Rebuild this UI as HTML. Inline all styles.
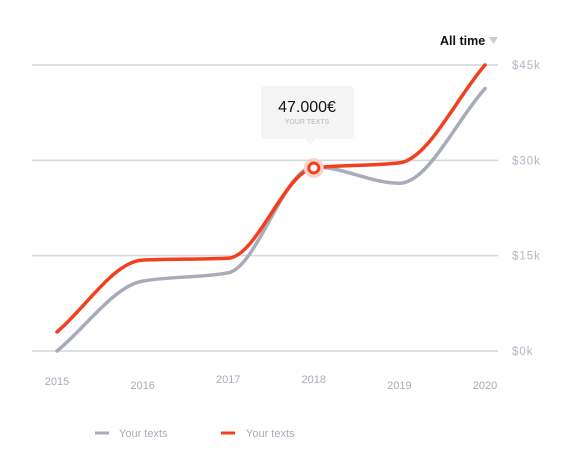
<!DOCTYPE html>
<html><head><meta charset="utf-8"><style>
body{margin:0;background:#fff;font-family:"Liberation Sans",sans-serif;}
svg{display:block}
</style></head><body>
<svg width="570" height="470">
<g id="grid"></g>
<g id="ylabels"></g>
<g id="xlabels"></g>
<g id="lines"></g>
<g>
<text x="440" y="45" font-size="12.5" font-weight="bold" fill="#111">All time</text>
<path d="M489,37 L498,37 L493.5,44 Z" fill="#c8cad6"/>
</g>
<g>
<rect x="261" y="86" width="93" height="53" rx="4" fill="#f5f5f5"/>
<path d="M305,139 L315,139 L310,145 Z" fill="#f5f5f5"/>
<text x="307" y="112" font-size="16" text-anchor="middle" fill="#111">47.000€</text>
<text x="307" y="124" font-size="7" font-weight="bold" text-anchor="middle" fill="#c9c9c9">YOUR TEXTS</text>
</g>
<g id="marker"></g>
<g>
<line x1="95" y1="433" x2="109" y2="433" stroke="#a8acba" stroke-width="3"/>
<text x="119" y="437" font-size="11" fill="#a8acba">Your texts</text>
<line x1="221" y1="433" x2="235" y2="433" stroke="#f2401e" stroke-width="3"/>
<text x="246" y="437" font-size="11" fill="#a8acba">Your texts</text>
</g>
</svg>
<script>
const years = ["2015","2016","2017","2018","2019","2020"];
const grayValues = [0, 11, 12.3, 29, 26.4, 41.3];
const redValues = [3, 14.3, 14.6, 28.8, 29.6, 45];
const yTicks = [0, 15, 30, 45];
const yTickLabels = ["$0k","$15k","$30k","$45k"];
const xLabelOffsets = [0, 4, -2, -2, 4, 4];
const highlightIndex = 3;

const NS="http://www.w3.org/2000/svg";
const X=i=>57+i*85.6;
const Y=v=>351-v*(286/45);
function el(t,a,p){const e=document.createElementNS(NS,t);for(const k in a)e.setAttribute(k,a[k]);p.appendChild(e);return e;}
const grid=document.getElementById('grid'),yl=document.getElementById('ylabels'),xl=document.getElementById('xlabels'),ln=document.getElementById('lines'),mk=document.getElementById('marker');
yTicks.forEach((v,i)=>{
 const l=el('line',{x1:32,x2:498,y1:Y(v),y2:Y(v),stroke:'#d3d6e2','stroke-width':1.5},grid);
 
 
 const t=el('text',{x:512,y:Y(v)+4,'font-size':11.5,fill:'#b3b6c4','letter-spacing':'1'},yl);
 t.textContent=yTickLabels[i];
 
 
});
years.forEach((y,i)=>{
 const t=el('text',{x:X(i),y:385+xLabelOffsets[i],'font-size':11,fill:'#a8acba','text-anchor':'middle'},xl);
 t.textContent=y;
 
 
});
function path(vals){
 const p=vals.map((v,i)=>[X(i),Y(v)]);
 const n=p.length,d=[],m=[];
 for(let i=0;i<n-1;i++)d.push((p[i+1][1]-p[i][1])/(p[i+1][0]-p[i][0]));
 for(let i=0;i<n;i++){
  if(i===0)m.push(d[0]);else if(i===n-1)m.push(d[n-2]);
  else m.push(d[i-1]*d[i]<=0?0:(2*d[i-1]*d[i])/(d[i-1]+d[i]));
 }
 let s=`M${p[0][0]},${p[0][1]}`;
 for(let i=0;i<n-1;i++){
  const h=(p[i+1][0]-p[i][0])/3;
  s+=` C${p[i][0]+h},${p[i][1]+m[i]*h} ${p[i+1][0]-h},${p[i+1][1]-m[i+1]*h} ${p[i+1][0]},${p[i+1][1]}`;
 }
 return s;
}
const g=el('path',{d:path(grayValues),fill:'none',stroke:'#a8acba','stroke-width':3.5,'stroke-linecap':'round'},ln);


const r=el('path',{d:path(redValues),fill:'none',stroke:'#f2401e','stroke-width':3.5,'stroke-linecap':'round'},ln);


const halo=el('circle',{cx:X(highlightIndex),cy:Y(redValues[highlightIndex]),r:10,fill:'#fbd3cb'},mk);


const dot=el('circle',{cx:X(highlightIndex),cy:Y(redValues[highlightIndex]),r:5,fill:'#fff',stroke:'#f2401e','stroke-width':3},mk);


</script>
</body></html>
